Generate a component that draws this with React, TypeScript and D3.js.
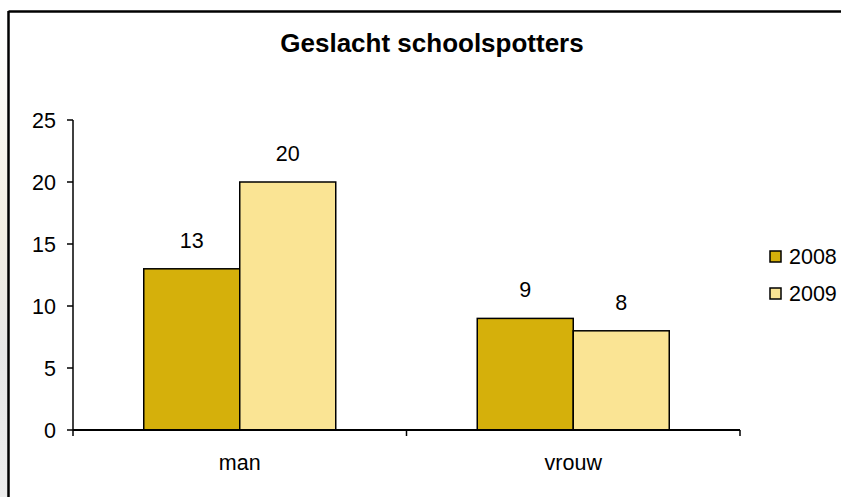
import React from "react";
import * as d3 from "d3";

const categories = ["man", "vrouw"];
const seriesNames = ["2008", "2009"];
const values2008 = [13, 9];
const values2009 = [20, 8];
const yTicks = [0, 5, 10, 15, 20, 25];
const colors = ["#D5B00B", "#FAE494"];

export default function App() {
  const W = 841, H = 497;
  const x0 = d3.scaleBand().domain(categories).range([73, 740]).paddingInner(0).paddingOuter(0);
  const x1 = d3.scaleBand().domain(seriesNames).range([0, x0.bandwidth()]).paddingInner(0).paddingOuter(0.737);
  const y = d3.scaleLinear().domain([0, 25]).range([430, 120]);
  const series = [values2008, values2009];
  const font = "Liberation Sans, Arial, sans-serif";
  const fs = 21.5;

  return (
    <div style={{ position: "absolute", left: 0, top: 0 }}>
      <svg width={W} height={H} style={{ display: "block", background: "#fff" }}>
        <defs>
          <linearGradient id="lg" x1="0" y1="0" x2="0" y2="1">
            <stop offset="0" stopColor="#ffffff" />
            <stop offset="0.45" stopColor="#f3eee2" />
            <stop offset="0.7" stopColor="#e6e6e6" />
            <stop offset="1" stopColor="#ececec" />
          </linearGradient>
        </defs>
        <rect x={0} y={12} width={8} height={H - 12} fill="url(#lg)" />
        {/* frame */}
        <line x1={8.5} y1={11.5} x2={W} y2={11.5} stroke="#000" strokeWidth={2.5} />
        <line x1={8.5} y1={11} x2={8.5} y2={H} stroke="#000" strokeWidth={2.5} />

        <text x={432} y={52} textAnchor="middle" fontFamily={font} fontWeight="bold" fontSize={26} fill="#000">
          Geslacht schoolspotters
        </text>

        {/* bars */}
        {categories.map((c, ci) =>
          seriesNames.map((s, si) => {
            const v = series[si][ci];
            const bx = (x0(c) as number) + (x1(s) as number);
            const bw = x1.bandwidth();
            return (
              <g key={c + s}>
                <rect x={bx} y={y(v)} width={bw} height={y(0) - y(v)} fill={colors[si]} stroke="#000" strokeWidth={1.5} />
                <text x={bx + bw / 2} y={y(v) - 21} textAnchor="middle" fontFamily={font} fontSize={fs} fill="#000">
                  {v}
                </text>
              </g>
            );
          })
        )}

        {/* y axis */}
        <line x1={73} y1={y(25)} x2={73} y2={y(0)} stroke="#000" strokeWidth={1.5} />
        {yTicks.map((t) => (
          <g key={t}>
            <line x1={67} y1={y(t)} x2={73} y2={y(t)} stroke="#000" strokeWidth={1.5} />
            <text x={56} y={y(t) + 8} textAnchor="end" fontFamily={font} fontSize={fs} fill="#000">
              {t}
            </text>
          </g>
        ))}

        {/* x axis */}
        <line x1={73} y1={y(0)} x2={740} y2={y(0)} stroke="#000" strokeWidth={2} />
        {[...categories.map((c) => x0(c) as number), 740].map((px, i) => (
          <line key={i} x1={px} y1={y(0)} x2={px} y2={y(0) + 6} stroke="#000" strokeWidth={1.5} />
        ))}
        {categories.map((c) => (
          <text key={c} x={(x0(c) as number) + x0.bandwidth() / 2} y={470} textAnchor="middle" fontFamily={font} fontSize={fs} fill="#000">
            {c}
          </text>
        ))}

        {/* legend */}
        {seriesNames.map((s, i) => (
          <g key={s}>
            <rect x={770} y={251 + i * 37} width={11} height={11} fill={colors[i]} stroke="#000" strokeWidth={1.5} />
            <text x={789} y={264 + i * 37} fontFamily={font} fontSize={fs} fill="#000">
              {s}
            </text>
          </g>
        ))}
      </svg>
    </div>
  );
}
